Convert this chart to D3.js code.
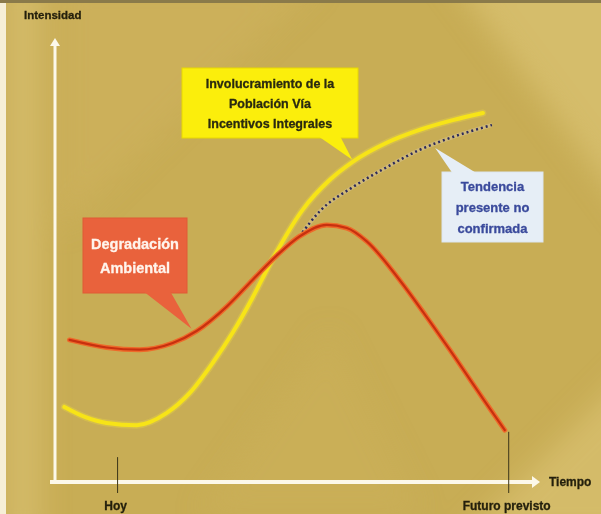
<!DOCTYPE html>
<html>
<head>
<meta charset="utf-8">
<script src="https://cdn.jsdelivr.net/npm/d3@7"></script>
<style>
  html, body { margin: 0; padding: 0; background: #ffffff; }
  svg { display: block; }
  text { font-family: "Liberation Sans", Arial, sans-serif; font-weight: bold; }
</style>
</head>
<body>
<svg id="chart" width="601" height="514"></svg>
<script>
// Time runs from "Hoy" (0) to "Futuro previsto" (100); intensity is 0–100.
const tickValues = [0, 100];
const tickLabels = ["Hoy", "Futuro previsto"];

// Involucramiento de la población (yellow)
const yellowT = [-13.6, -8.2, -2.8, 4.9, 12.5, 18.4, 24.3, 29.4, 34.5, 38.9, 47.3, 54.2, 60.1, 68.8, 77.2, 85.7, 93.4];
const yellowV = [16.9, 14.6, 13.3, 12.8, 15.5, 20.0, 26.8, 33.6, 41.5, 49.0, 61.3, 68.0, 72.1, 76.4, 79.3, 81.5, 83.1];

// Degradación ambiental (red)
const redT = [-12.3, -2.8, 5.6, 14.1, 20.2, 27.9, 34.5, 40.7, 46.5, 53.5, 58.6, 63.7, 72.1, 79.0, 84.9, 93.4, 99.0];
const redV = [32.0, 30.3, 29.8, 31.3, 34.0, 39.5, 45.5, 51.0, 55.3, 57.9, 57.2, 54.2, 45.5, 37.2, 29.8, 18.8, 11.7];

// Tendencia presente no confirmada (dotted)
const trendT = [46.5, 51.7, 60.1, 68.8, 77.2, 85.7, 95.7];
const trendV = [55.3, 61.0, 66.4, 70.9, 74.8, 77.7, 80.4];

const svg = d3.select("#chart");
const W = 601, H = 514;

const x = d3.scaleLinear().domain([-16, 108]).range([55, 540]);
const y = d3.scaleLinear().domain([0, 100]).range([482, 38]);

// ---- background ----
const defs = svg.append("defs");
const soft = defs.append("filter").attr("id", "soft").attr("x", "-20%").attr("y", "-20%")
  .attr("width", "140%").attr("height", "140%");
soft.append("feGaussianBlur").attr("stdDeviation", 14);

svg.append("rect").attr("width", W).attr("height", H).attr("fill", "#c8ad55");
const bg = svg.append("g").attr("filter", "url(#soft)");
bg.append("path").attr("d", "M6,-20 L40,-20 L40,540 L6,540 Z").attr("fill", "#d8c172").attr("opacity", 0.7);
bg.append("path").attr("d", "M445,-30 L640,-30 L640,230 Z").attr("fill", "#d8c170").attr("opacity", 0.8);
bg.append("path").attr("d", "M460,540 L640,360 L640,540 Z").attr("fill", "#d8c070").attr("opacity", 0.75);
bg.append("path").attr("d", "M60,-20 L320,-20 L60,230 Z").attr("fill", "#cfb35d").attr("opacity", 0.6);
bg.append("path").attr("d", "M200,514 L330,330 L420,514 Z").attr("fill", "#ccb15a").attr("opacity", 0.5);
svg.append("rect").attr("x", 0).attr("y", 0).attr("width", 6).attr("height", H).attr("fill", "#f6efd6");
svg.append("rect").attr("x", 0).attr("y", 0).attr("width", W).attr("height", 3).attr("fill", "#8a7a4a");

// ---- axes ----
const axisColor = "#fcf8ea";
const x0 = x(-16), yTop = y(100), yBase = y(0);
svg.append("line").attr("x1", x0).attr("y1", yBase).attr("x2", x0).attr("y2", yTop + 6)
  .attr("stroke", axisColor).attr("stroke-width", 3);
svg.append("path").attr("d", `M${x0 - 5},${yTop + 8} L${x0},${yTop} L${x0 + 5},${yTop + 8} Z`).attr("fill", axisColor);
svg.append("line").attr("x1", x0 - 5).attr("y1", yBase).attr("x2", x(108) - 6).attr("y2", yBase)
  .attr("stroke", axisColor).attr("stroke-width", 4);
svg.append("path").attr("d", `M${x(108) - 8},${yBase - 6} L${x(108)},${yBase} L${x(108) - 8},${yBase + 6} Z`).attr("fill", axisColor);

const labelInk = "#231f0c";
svg.append("text").attr("x", 24).attr("y", 19).attr("font-size", 11.5).attr("fill", labelInk)
  .attr("stroke", labelInk).attr("stroke-width", 0.3).text("Intensidad");
svg.append("text").attr("x", 549).attr("y", 486).attr("font-size", 12).attr("fill", labelInk)
  .attr("stroke", labelInk).attr("stroke-width", 0.3).text("Tiempo");

// ticks "Hoy" / "Futuro previsto"
const tickTop = [y(5.6), y(11.3)];
tickValues.forEach((t, i) => {
  svg.append("line").attr("x1", x(t)).attr("x2", x(t)).attr("y1", tickTop[i]).attr("y2", 493)
    .attr("stroke", "#3a3418").attr("stroke-width", 1);
  svg.append("text").attr("x", x(t) - 2).attr("y", 510)
    .attr("text-anchor", "middle").attr("font-size", 12).attr("fill", labelInk)
    .attr("stroke", labelInk).attr("stroke-width", 0.3).text(tickLabels[i]);
});

// ---- curves ----
const line = d3.line().x(d => x(d[0])).y(d => y(d[1])).curve(d3.curveMonotoneX);
const yellowPts = yellowT.map((t, i) => [t, yellowV[i]]);
const redPts = redT.map((t, i) => [t, redV[i]]);
const trendPts = trendT.map((t, i) => [t, trendV[i]]);

svg.append("path").attr("d", line(yellowPts)).attr("fill", "none")
  .attr("stroke", "#f2e03a").attr("stroke-width", 7).attr("opacity", 0.3).attr("stroke-linecap", "round");
svg.append("path").attr("d", line(yellowPts)).attr("fill", "none")
  .attr("stroke", "#f7e417").attr("stroke-width", 4).attr("stroke-linecap", "round");

svg.append("path").attr("d", line(trendPts)).attr("fill", "none")
  .attr("stroke", "#d9c7a0").attr("stroke-width", 4).attr("opacity", 0.45);
svg.append("path").attr("d", line(trendPts)).attr("fill", "none")
  .attr("stroke", "#2c2a5a").attr("stroke-width", 2.5).attr("stroke-dasharray", "2,3");

svg.append("path").attr("d", line(redPts)).attr("fill", "none")
  .attr("stroke", "#ee6a2a").attr("stroke-width", 5).attr("stroke-linecap", "round");
svg.append("path").attr("d", line(redPts)).attr("fill", "none")
  .attr("stroke", "#c8300f").attr("stroke-width", 2.2).attr("stroke-linecap", "round");

// ---- callouts ----
function callout(box, tip, base, fill, stroke, lines, color, fs, lh) {
  const g = svg.append("g");
  g.append("rect").attr("x", box.x).attr("y", box.y).attr("width", box.w).attr("height", box.h)
    .attr("fill", fill).attr("stroke", stroke).attr("stroke-width", 1);
  g.append("path")
    .attr("d", `M${base[0]},${base[1]} L${tip[0]},${tip[1]} L${base[2]},${base[3]} Z`)
    .attr("fill", fill);
  const cx = box.x + box.w / 2;
  const y0 = box.y + box.h / 2 - (lines.length - 1) * lh / 2 + fs * 0.36;
  lines.forEach((s, i) => {
    g.append("text").attr("x", cx).attr("y", y0 + i * lh).attr("text-anchor", "middle")
      .attr("font-size", fs).attr("fill", color).attr("stroke", color).attr("stroke-width", 0.3).text(s);
  });
}

// yellow
callout({x: 182, y: 68, w: 176, h: 70}, [x(60.0), y(72.6)], [318, 136, 340, 136],
  "#fbee0c", "#e8d800",
  ["Involucramiento de la", "Población Vía", "Incentivos Integrales"], "#2a2a10", 12.5, 20);

// red
callout({x: 83, y: 218, w: 104, h: 75}, [x(18.9), y(34.5)], [143, 291, 170, 291],
  "#e9623c", "#e05a34",
  ["Degradación", "Ambiental"], "#fff4ec", 14.5, 24);

// light blue
callout({x: 442, y: 172, w: 101, h: 70}, [x(81.2), y(75.2)], [453, 174, 478, 174],
  "#e6eef6", "#dce6f0",
  ["Tendencia", "presente no", "confirmada"], "#3a4a9c", 13, 21);
</script>
</body>
</html>
